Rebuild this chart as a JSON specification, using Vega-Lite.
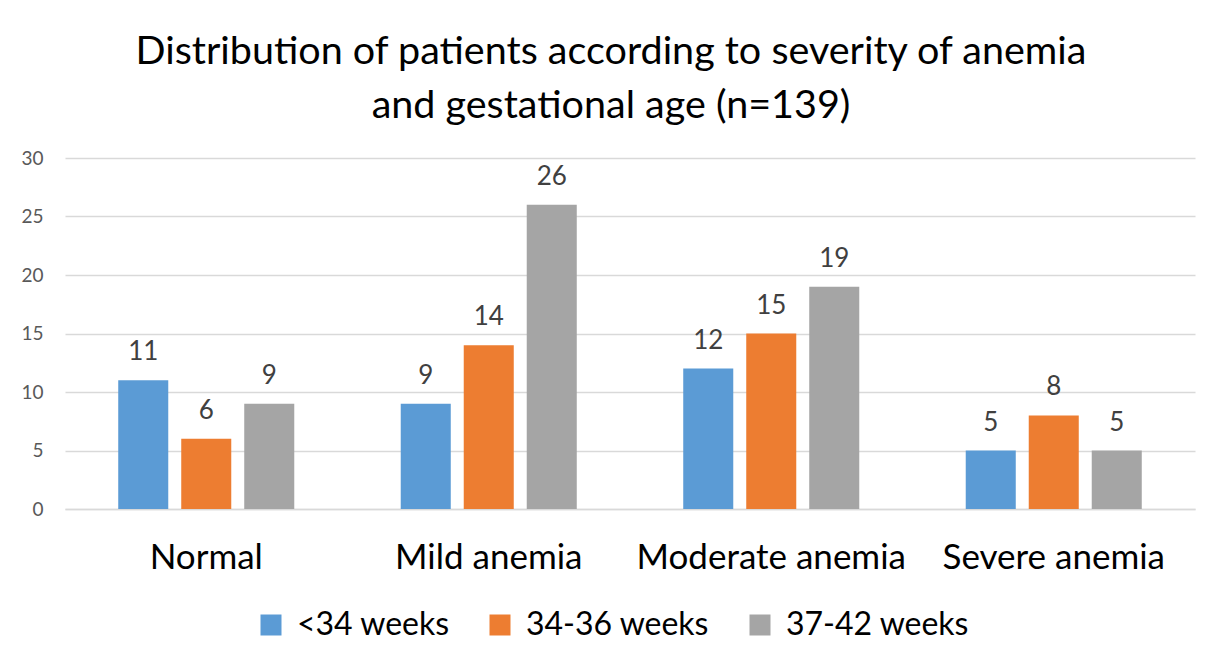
{
  "$schema": "https://vega.github.io/schema/vega-lite/v6.json",
  "width": 1130,
  "height": 351,
  "autosize": "none",
  "padding": {"left": 65, "top": 158, "right": 27, "bottom": 163},
  "background": "white",
  "config": {
    "font": "Lato",
    "view": {"stroke": null}
  },
  "title": {
    "text": ["Distribution of patients according to severity of anemia", "and gestational age (n=139)"],
    "fontSize": 39.5,
    "font": "Lato",
    "fontWeight": "normal",
    "color": "#000000",
    "anchor": "middle",
    "dx": -19,
    "offset": 23,
    "lineHeight": 54
  },
  "data": {
    "values": [
      {"category": "Normal", "group": "<34 weeks", "value": 11},
      {"category": "Normal", "group": "34-36 weeks", "value": 6},
      {"category": "Normal", "group": "37-42 weeks", "value": 9},
      {"category": "Mild anemia", "group": "<34 weeks", "value": 9},
      {"category": "Mild anemia", "group": "34-36 weeks", "value": 14},
      {"category": "Mild anemia", "group": "37-42 weeks", "value": 26},
      {"category": "Moderate anemia", "group": "<34 weeks", "value": 12},
      {"category": "Moderate anemia", "group": "34-36 weeks", "value": 15},
      {"category": "Moderate anemia", "group": "37-42 weeks", "value": 19},
      {"category": "Severe anemia", "group": "<34 weeks", "value": 5},
      {"category": "Severe anemia", "group": "34-36 weeks", "value": 8},
      {"category": "Severe anemia", "group": "37-42 weeks", "value": 5}
    ]
  },
  "encoding": {
    "x": {
      "field": "category",
      "type": "nominal",
      "sort": ["Normal", "Mild anemia", "Moderate anemia", "Severe anemia"],
      "scale": {"paddingInner": 0, "paddingOuter": 0},
      "axis": {
        "title": null,
        "labelAngle": 0,
        "labelFontSize": 35,
        "labelColor": "#000000",
        "labelPadding": 31,
        "labelLimit": 0,
        "ticks": false,
        "domainColor": "#d9d9d9",
        "domainWidth": 1.5
      }
    },
    "xOffset": {
      "field": "group",
      "type": "nominal",
      "sort": ["<34 weeks", "34-36 weeks", "37-42 weeks"],
      "scale": {"paddingInner": 0.206, "paddingOuter": 0.845}
    },
    "y": {
      "field": "value",
      "type": "quantitative",
      "scale": {"domain": [0, 30]},
      "axis": {
        "title": null,
        "values": [0, 5, 10, 15, 20, 25, 30],
        "labelFontSize": 19,
        "labelColor": "#595959",
        "labelPadding": 22,
        "ticks": false,
        "domain": false,
        "gridColor": "#d9d9d9",
        "gridWidth": 1.5
      }
    }
  },
  "layer": [
    {
      "mark": {"type": "bar"},
      "encoding": {
        "color": {
          "field": "group",
          "type": "nominal",
          "sort": ["<34 weeks", "34-36 weeks", "37-42 weeks"],
          "scale": {"domain": ["<34 weeks", "34-36 weeks", "37-42 weeks"], "range": ["#5b9bd5", "#ed7d31", "#a5a5a5"]},
          "legend": {
            "title": null,
            "orient": "none",
            "direction": "horizontal",
            "legendX": 190,
            "legendY": 451,
            "symbolType": "square",
            "symbolSize": 441,
            "symbolStrokeWidth": 0,
            "symbolOpacity": 1,
            "labelFontSize": 32,
            "labelColor": "#000000",
            "labelOffset": 10,
            "labelLimit": 0,
            "columnPadding": 34,
            "symbolLimit": 0
          }
        }
      }
    },
    {
      "mark": {"type": "text", "baseline": "alphabetic", "dy": -20, "fontSize": 26, "color": "#404040"},
      "encoding": {
        "text": {"field": "value", "type": "quantitative"}
      }
    }
  ]
}
